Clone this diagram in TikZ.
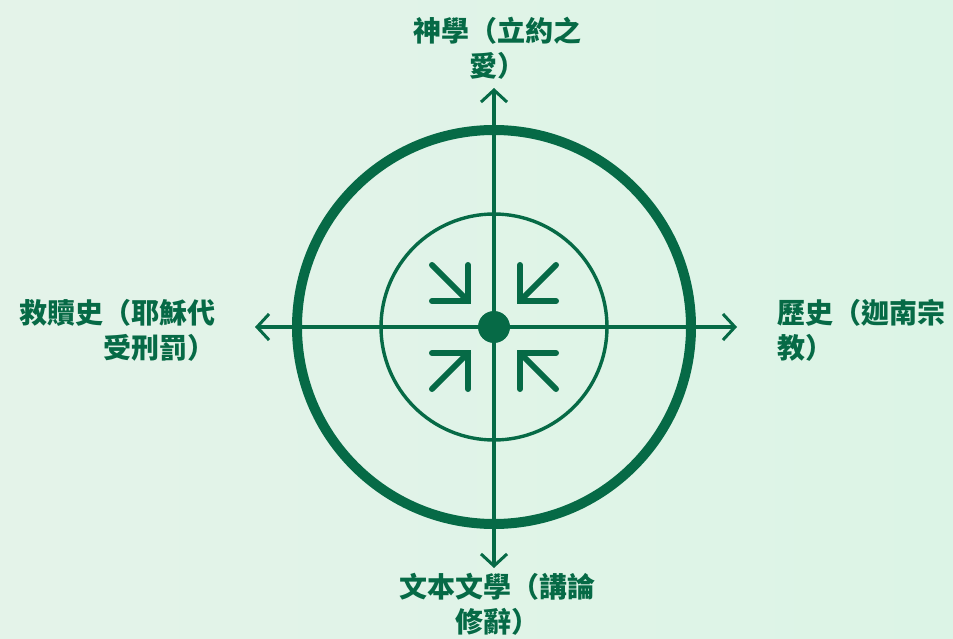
\documentclass[tikz,border=0pt]{standalone}
\usepackage{fontspec}
\newfontfamily\cjkfont{Noto Sans CJK TC}
\usepackage{tikz}
\usetikzlibrary{arrows.meta,calc}
\definecolor{frameGreen}{RGB}{6,106,70}
\definecolor{bgLight}{RGB}{228,243,233}
\definecolor{bgMint}{RGB}{220,244,230}
\tikzset{
  frame/ring/.style={draw=frameGreen, line width=10pt},
  frame/inner/.style={draw=frameGreen, line width=3.4pt},
  frame/axis/.style={draw=frameGreen, line width=3.2pt,
                     -{Straight Barb[length=12pt, width=26pt, line width=3pt]}},
  frame/icon/.style={draw=frameGreen, line width=6pt, line cap=round, line join=miter},
  frame/hub/.style={circle, fill=frameGreen, minimum size=32pt, inner sep=0pt},
  frame/lbl/.style={text=frameGreen, font=\cjkfont\bfseries\fontsize{28pt}{35pt}\selectfont,
                    inner sep=0pt},
}

\begin{document}
\begin{tikzpicture}[x=1pt, y=-1pt]

  \shade[left color=bgLight, right color=bgMint] (0,0) rectangle (953,639);
  \useasboundingbox (0,0) rectangle (953,639);

  \coordinate (c) at (494,327);
  \coordinate (northEnd) at (494,88);
  \coordinate (southEnd) at (494,568);
  \coordinate (westEnd) at (255,327);
  \coordinate (eastEnd) at (737,327);

  % ---------------- circles ----------------
  \draw[frame/ring] (c) circle[radius=197];
  \draw[frame/inner] (c) circle[radius=113];

  % ---------------- axes ----------------
  \draw[frame/axis] (c) -- (northEnd);
  \draw[frame/axis] (c) -- (southEnd);
  \draw[frame/axis] (c) -- (westEnd);
  \draw[frame/axis] (c) -- (eastEnd);

  \node[frame/hub] (hub) at (c) {};

  % ---------------- inward arrows ----------------
  \foreach \sx/\sy in {-1/-1, 1/-1, -1/1, 1/1}{
    \draw[frame/icon] ($(hub)+(62*\sx,62*\sy)$) -- ($(hub)+(26*\sx,26*\sy)$);
    \draw[frame/icon] ($(hub)+(26*\sx,62*\sy)$) -- ($(hub)+(26*\sx,26*\sy)$)
      -- ($(hub)+(62*\sx,26*\sy)$);
  }

  % ---------------- labels ----------------
  \node[frame/lbl, align=center, anchor=south] (theo) at (497,80)
    {神學（立約之\\愛）};
  \node[frame/lbl, align=center, anchor=north] (text) at (497,573)
    {文本文學（講論\\修辭）};
  \node[frame/lbl, align=right, anchor=east] (salv) at (216,330)
    {救贖史（耶穌代\\受刑罰）};
  \node[frame/lbl, align=left, anchor=west] (hist) at (777,330)
    {歷史（迦南宗\\教）};

\end{tikzpicture}
\end{document}
